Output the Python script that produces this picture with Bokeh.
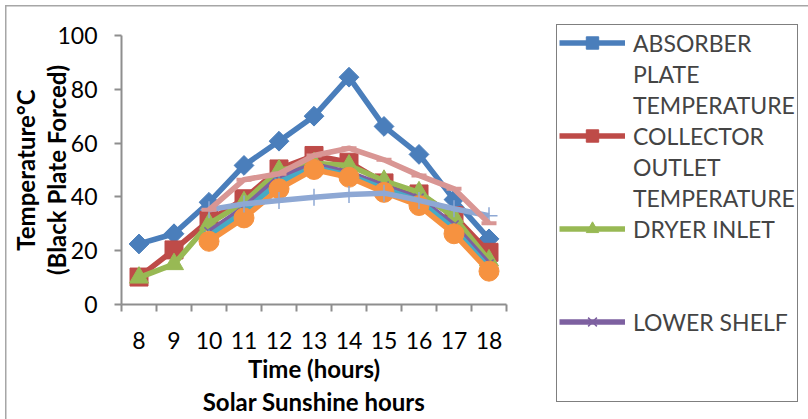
import numpy as np
from bokeh.plotting import figure
from bokeh.models import FixedTicker, Legend, LegendItem, Range1d, LinearAxis
from bokeh.embed import file_html
from bokeh.resources import INLINE

hours = [8, 9, 10, 11, 12, 13, 14, 15, 16, 17, 18]
hours_late = [10, 11, 12, 13, 14, 15, 16, 17, 18]

absorber_plate = [22.5, 26.3, 38, 51.7, 60.7, 70, 84.5, 66.2, 55.8, 39, 24.4]
collector_outlet = [10.2, 20.3, 31.2, 39.3, 50.4, 55.4, 52.9, 45.2, 41.1, 33, 19.4]
dryer_inlet = [10, 15, 30, 38, 49.8, 52.5, 51.7, 46, 41.7, 32.5, 16.4]
lower_shelf = [27, 36, 47.5, 52, 49, 44, 39.5, 29.5, 15]
middle_shelf = [25.5, 34.5, 45.5, 51, 48, 43, 38.5, 28, 13.5]
upper_shelf = [23.5, 32.2, 43, 50.2, 47.3, 41.7, 36.8, 26.3, 12.4]
ambient = [35.2, 37.4, 38.7, 39.9, 40.9, 41.4, 38.7, 35.6, 33]
dryer_outlet = [35.2, 46.4, 48.6, 55.4, 58.1, 53.8, 48, 43, 30.2]

y_ticks = [0, 20, 40, 60, 80, 100]

# legend text, one list entry per wrapped line ("" = empty wrapped line)
legend_lines = [
    ["ABSORBER", "PLATE", "TEMPERATURE"],
    ["COLLECTOR", "OUTLET", "TEMPERATURE"],
    ["DRYER INLET", "", ""],
    ["LOWER SHELF", "", ""],
]

FONT = "Lato"
GRAY = "#8E8E8E"
BORDER = "#A6A6A6"

series = [
    (hours, absorber_plate, "#4A7EBB", "square", 14, np.pi / 4),
    (hours, collector_outlet, "#BE4B48", "square", 18, 0),
    (hours, dryer_inlet, "#98B954", "triangle", 19, 0),
    (hours_late, lower_shelf, "#7D60A0", "x", 13, 0),
    (hours_late, middle_shelf, "#46AAC5", "asterisk", 13, 0),
    (hours_late, upper_shelf, "#F69240", "circle", 20, 0),
    (hours_late, ambient, "#8EA8D4", "cross", 17, 0),
    (hours_late, dryer_outlet, "#D99694", "dash", 15, 0),
]


def marker_kw(mk, col, sz, ang):
    lw = 1.5 if mk in ("x", "asterisk", "cross") else (4 if mk == "dash" else 1)
    return dict(marker=mk, size=sz, line_color=col, line_width=lw, fill_color=col, angle=ang)


# ---------------- main chart ----------------
p = figure(width=540, height=419, output_backend="svg", toolbar_location=None,
           x_range=Range1d(7.5, 18.5), y_range=Range1d(0, 100),
           min_border_left=121, min_border_right=34, min_border_top=35,
           min_border_bottom=115, background_fill_color="white",
           border_fill_alpha=0, y_axis_location=None, x_axis_location=None)
p.xgrid.visible = False
p.ygrid.visible = False
p.outline_line_color = None
p.styles = {"box-shadow": f"inset 5px 5px 0 0 white, inset 6.5px 6.5px 0 0 {BORDER}"}

yax = LinearAxis(ticker=FixedTicker(ticks=y_ticks))
yax.axis_line_color = GRAY
yax.axis_line_width = 2
yax.major_tick_line_color = GRAY
yax.major_tick_line_width = 2
yax.major_tick_out = 7
yax.major_tick_in = 0
yax.minor_tick_line_color = None
yax.major_label_standoff = 17
yax.major_label_text_font = FONT
yax.major_label_text_font_size = "23px"
yax.major_label_text_color = "black"
yax.axis_label = "(Black Plate Forced)"
yax.axis_label_standoff = -17
yax.axis_label_text_font = FONT
yax.axis_label_text_font_style = "bold"
yax.axis_label_text_font_size = "24px"
yax.axis_label_text_color = "black"
p.add_layout(yax, "left")

yax2 = LinearAxis(ticker=FixedTicker(ticks=[]))
yax2.axis_line_color = None
yax2.major_tick_line_color = None
yax2.minor_tick_line_color = None
yax2.axis_label = "Temperature°C"
yax2.axis_label_standoff = 0
yax2.axis_label_text_font = FONT
yax2.axis_label_text_font_style = "bold"
yax2.axis_label_text_font_size = "24px"
yax2.axis_label_text_color = "black"
p.add_layout(yax2, "left")

minor = [h - 0.5 for h in hours] + [hours[-1] + 0.5]
xax = LinearAxis(ticker=FixedTicker(ticks=hours, minor_ticks=minor))
xax.axis_line_color = GRAY
xax.axis_line_width = 2
xax.major_tick_line_color = None
xax.major_tick_out = 6
xax.minor_tick_line_color = GRAY
xax.minor_tick_line_width = 2
xax.minor_tick_out = 7
xax.minor_tick_in = 0
xax.major_label_standoff = 20
xax.major_label_text_font = FONT
xax.major_label_text_font_size = "23px"
xax.major_label_text_color = "black"
xax.axis_label = "Time (hours)"
xax.axis_label_standoff = 2
xax.axis_label_text_font = FONT
xax.axis_label_text_font_style = "bold"
xax.axis_label_text_font_size = "24px"
xax.axis_label_text_color = "black"
p.add_layout(xax, "below")

xax2 = LinearAxis(ticker=FixedTicker(ticks=[]))
xax2.axis_line_color = None
xax2.major_tick_line_color = None
xax2.minor_tick_line_color = None
xax2.axis_label = "Solar Sunshine hours"
xax2.axis_label_standoff = 1
xax2.axis_label_text_font = FONT
xax2.axis_label_text_font_style = "bold"
xax2.axis_label_text_font_size = "24px"
xax2.axis_label_text_color = "black"
p.add_layout(xax2, "below")

for xs, ys, col, mk, sz, ang in series:
    p.line(xs, ys, line_color=col, line_width=5.5, line_join="round")
    p.scatter(xs, ys, **marker_kw(mk, col, sz, ang))

# ---------------- legend panel (own canvas, placed at the right) ----------------
q = figure(width=268, height=419, output_backend="svg", toolbar_location=None,
           x_range=Range1d(0, 1), y_range=Range1d(0, 1), min_border=0,
           x_axis_location=None, y_axis_location=None,
           background_fill_alpha=0, border_fill_alpha=0)
q.xgrid.visible = False
q.ygrid.visible = False
q.outline_line_color = None
q.styles = {"position": "absolute", "left": "540px", "top": "0px",
            "box-shadow": f"inset 0 5px 0 0 white, inset 0 6.5px 0 0 {BORDER}"}

# same series drawn on the legend canvas (outside its ranges, so only the legend shows them)
renderers = []
for xs, ys, col, mk, sz, ang in series:
    lr = q.line(xs, ys, line_color=col, line_width=5.5)
    sr = q.scatter(xs, ys, **marker_kw(mk, col, sz, ang))
    renderers.append([lr, sr])
ghost = q.line(hours, absorber_plate, line_alpha=0)

items = []
for k, lines in enumerate(legend_lines):
    for j, txt in enumerate(lines):
        if j == 0:
            items.append(LegendItem(label=txt, renderers=renderers[k]))
        else:
            items.append(LegendItem(label=txt if txt else " ", renderers=[ghost]))

legend = Legend(items=items, location=(16, 17), orientation="vertical",
                border_line_color="black", border_line_width=1,
                background_fill_color="white", background_fill_alpha=1,
                label_text_font=FONT, label_text_font_size="23px",
                label_height=31, glyph_height=31, glyph_width=66,
                label_standoff=8, spacing=0, padding=2, margin=0)
q.add_layout(legend)

open("out.html", "w").write(file_html([p, q], INLINE))
